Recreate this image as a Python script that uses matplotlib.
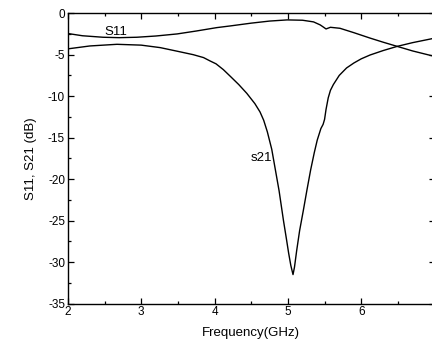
import matplotlib
matplotlib.use('Agg')
import matplotlib.pyplot as plt
from matplotlib.ticker import MultipleLocator

plt.rcParams['font.family'] = ['Liberation Sans', 'DejaVu Sans']
plt.rcParams['axes.unicode_minus'] = False

# S11 curve (upper one on the left)
s11_freq = [2.0, 2.2, 2.48, 2.7, 2.94, 3.2, 3.49, 3.75, 4.03, 4.22, 4.5,
            4.75, 4.99, 5.2, 5.35, 5.44, 5.48, 5.52, 5.58, 5.71, 5.9, 6.12,
            6.3, 6.49, 6.7, 6.95, 7.0]
s11_db = [-2.45, -2.72, -2.9, -2.95, -2.9, -2.75, -2.5, -2.15, -1.74, -1.53,
          -1.2, -0.95, -0.81, -0.85, -1.05, -1.41, -1.65, -1.9, -1.7, -1.82,
          -2.35, -3.0, -3.5, -4.0, -4.55, -5.1, -5.2]

# S21 curve (the one with the deep dip)
s21_freq = [2.0, 2.3, 2.67, 3.0, 3.26, 3.5, 3.71, 3.85, 3.94, 4.02, 4.12,
            4.22, 4.33, 4.44, 4.55, 4.62, 4.67, 4.72, 4.78, 4.83, 4.88, 4.94,
            4.98, 5.01, 5.04, 5.07, 5.09, 5.12, 5.16, 5.21, 5.26, 5.31, 5.36,
            5.40, 5.45, 5.48, 5.50, 5.52, 5.55, 5.58, 5.62, 5.7, 5.8, 5.9,
            6.0, 6.12, 6.3, 6.49, 6.7, 6.95, 7.0]
s21_db = [-4.3, -3.95, -3.75, -3.85, -4.15, -4.6, -5.0, -5.35, -5.76, -6.1,
          -6.8, -7.65, -8.6, -9.66, -10.9, -11.9, -12.9, -14.3, -16.4,
          -18.9, -21.4, -25.0, -27.2, -28.9, -30.4, -31.5, -30.6, -28.6,
          -26.2, -23.8, -21.3, -18.9, -16.8, -15.3, -13.9, -13.4, -12.8,
          -11.6, -10.2, -9.3, -8.6, -7.5, -6.6, -6.0, -5.5, -5.04, -4.5,
          -4.0, -3.55, -3.1, -3.0]

fig = plt.figure(figsize=(4.32, 3.47), dpi=100)
ax = fig.add_axes([0.157, 0.125, 0.849, 0.837])

ax.plot(s11_freq, s11_db, color='black', lw=1.0)
ax.plot(s21_freq, s21_db, color='black', lw=1.0)

ax.text(2.66, -2.3, 'S11', fontsize=9.5, ha='center', va='center')
ax.text(4.64, -17.4, 's21', fontsize=9.5, ha='center', va='center')

ax.set_xlim(2, 7)
ax.set_ylim(-35, 0)
ax.xaxis.set_major_locator(MultipleLocator(1))
ax.xaxis.set_minor_locator(MultipleLocator(0.5))
ax.yaxis.set_major_locator(MultipleLocator(5))
ax.yaxis.set_minor_locator(MultipleLocator(2.5))
ax.tick_params(which='both', direction='in', top=True, right=True,
               labelsize=8.5, width=0.9, pad=2)
ax.tick_params(which='major', length=4)
ax.tick_params(which='minor', length=2)
for s in ax.spines.values():
    s.set_linewidth(1.0)

ax.set_xlabel('Frequency(GHz)', fontsize=9.5, labelpad=6)
ax.set_ylabel('S11, S21 (dB)', fontsize=9.5, labelpad=8)

fig.savefig('out.png', dpi=100)
